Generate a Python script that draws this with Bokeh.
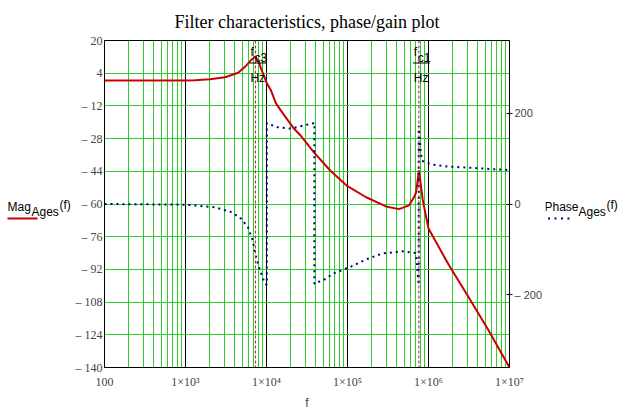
import math
from bokeh.plotting import figure
from bokeh.layouts import row
from bokeh.models import (Range1d, LinearAxis, FixedTicker, Label, Span, BoxAnnotation)
from bokeh.embed import file_html
from bokeh.resources import INLINE

# ---------------- data ----------------
freq_mag = [100, 300, 1000, 1300, 2000, 3080, 4470, 5640, 6500, 7270, 8000, 8590,
            10170, 11380, 13000, 15060, 21900, 26400, 38300, 61100, 97500, 170000, 298000,
            434000, 574000, 661000, 700000, 735000, 760000, 800000, 850000, 920000,
            1000000, 1760000, 3090000, 5370000, 10000000]
mag_db = [0.4, 0.4, 0.4, 0.5, 1.0, 2.0, 4.2, 7.8, 10.5, 12.2, 9.5, 6.1,
          -1.2, -4.5, -10.5, -14.3, -23.2, -26.5, -34.6, -43.6, -51.0, -56.7, -61.2,
          -62.5, -60.7, -56.7, -54.6, -48.5, -43.6, -50.0, -58.0, -65.0,
          -72.0, -89.5, -105.3, -121.0, -140.0]

freq_phase = [100, 1000, 2300, 3720, 4900, 5890, 6760, 7250, 7830, 8590, 9550,
              10100, 10100, 13700, 20000, 28800, 38300, 39000, 39000, 41700, 50100,
              67000, 107000, 170000, 269000, 476000, 692000, 720000, 745000,
              757000, 757000, 775000, 800000, 834000, 1100000, 1600000, 9300000, 10000000]
phase_deg = [0, -1.5, -7, -18, -33, -51, -80, -109, -131, -153, -175,
             -178, 178, 169, 166, 173, 178, 179, -176, -173, -168,
             -153, -139, -122, -109, -104, -108, -131, -165,
             -178, 172, 150, 117, 95, 87, 83, 75, 75]

fc_names = ["c3", "c1"]
fc_values = [7300, 760000]

mag_ticks = [20, 4, -12, -28, -44, -60, -76, -92, -108, -124, -140]
phase_ticks = [-200, 0, 200]
freq_decades = [1e2, 1e3, 1e4, 1e5, 1e6, 1e7]
freq_tick_labels = ["100", "1×10³", "1×10⁴", "1×10⁵", "1×10⁶", "1×10⁷"]
freq_minor = [k * d for d in [1e2, 1e3, 1e4, 1e5, 1e6] for k in range(2, 10)]

title_text = "Filter characteristics, phase/gain plot"

# ---------------- layout constants ----------------
W, H = 627, 415
LW = 72            # left legend strip
ML = 29            # main figure left border (tick labels)
FW = 411           # frame width
MR = 33            # main figure right border (right axis)
RW = W - LW - ML - FW - MR
T, B = 40, 48
GREEN = "#2ecc2e"
RED = "#cc0000"
BLUE = "#000080"


def canvas_label(txt, x, y, size="12px", color="black", style="normal", align="left",
                 font="Liberation Sans"):
    return Label(x=x, y=y, x_units="canvas", y_units="canvas", text=txt,
                 text_font=font, text_font_size=size, text_font_style=style,
                 text_baseline="alphabetic", text_align=align, text_color=color)


def canvas_box(left, right, top, bottom, color):
    return BoxAnnotation(left=left, right=right, top=top, bottom=bottom,
                         left_units="canvas", right_units="canvas",
                         top_units="canvas", bottom_units="canvas",
                         fill_color=color, fill_alpha=1.0, line_color=None)


def strip(width):
    f = figure(width=width, height=H, x_range=Range1d(0, width), y_range=Range1d(0, H),
               output_backend="svg", toolbar_location=None,
               x_axis_location=None, y_axis_location=None,
               min_border=0, min_border_left=0, min_border_right=0,
               min_border_top=0, min_border_bottom=0)
    f.grid.visible = False
    f.outline_line_color = None
    f.background_fill_color = "white"
    f.border_fill_color = "white"
    return f


# ---------------- main figure ----------------
p = figure(width=ML + FW + MR, height=H, x_axis_type="log",
           x_range=Range1d(1e2, 1e7), y_range=Range1d(-140, 20),
           output_backend="svg", toolbar_location=None,
           min_border_left=ML, min_border_right=MR, min_border_top=T, min_border_bottom=B)
p.extra_y_ranges = {"phase": Range1d(-360, 360)}
p.background_fill_color = "white"
p.border_fill_color = "white"
p.outline_line_color = "black"
p.outline_line_alpha = 1.0

p.title.text = title_text
p.title.align = "center"
p.title.text_font = "Liberation Serif"
p.title.text_font_size = "18px"
p.title.text_font_style = "normal"
p.title.text_color = "black"
p.title.standoff = 17

# grids
p.xgrid.ticker = FixedTicker(ticks=freq_decades, minor_ticks=freq_minor)
p.xgrid.grid_line_color = "black"
p.xgrid.grid_line_alpha = 1.0
p.xgrid.minor_grid_line_color = GREEN
p.ygrid.ticker = FixedTicker(ticks=mag_ticks)
p.ygrid.grid_line_color = GREEN
p.ygrid.grid_line_alpha = 1.0

# x axis
xa = p.xaxis[0]
xa.ticker = FixedTicker(ticks=freq_decades)
xa.major_label_overrides = {d: s for d, s in zip(freq_decades, freq_tick_labels)}
xa.major_tick_line_color = None
xa.major_tick_out = 0
xa.major_tick_in = 0
xa.minor_tick_line_color = None
xa.minor_tick_out = 0
xa.axis_line_color = "black"
xa.major_label_text_font = "Liberation Serif"
xa.major_label_text_font_size = "12px"
xa.major_label_standoff = 7
xa.axis_label = "f"
xa.axis_label_text_font = "Liberation Sans"
xa.axis_label_text_font_style = "normal"
xa.axis_label_text_font_size = "12px"
xa.axis_label_standoff = 4

# left axis
ya = p.yaxis[0]
ya.ticker = FixedTicker(ticks=mag_ticks)
ya.major_label_overrides = {t: (f"– {abs(t)}" if t < 0 else str(t)) for t in mag_ticks}
ya.major_tick_line_color = None
ya.major_tick_out = 0
ya.major_tick_in = 0
ya.minor_tick_line_color = None
ya.minor_tick_out = 0
ya.axis_line_color = "black"
ya.major_label_text_font = "Liberation Serif"
ya.major_label_text_font_size = "12px"
ya.major_label_standoff = 2

# right axis
ra = LinearAxis(y_range_name="phase", ticker=FixedTicker(ticks=phase_ticks))
ra.major_label_overrides = {t: (f"– {abs(t)}" if t < 0 else str(t)) for t in phase_ticks}
ra.major_tick_in = 3
ra.major_tick_out = 3
ra.major_tick_line_color = "black"
ra.minor_tick_line_color = None
ra.minor_tick_out = 0
ra.axis_line_color = "black"
ra.major_label_text_font = "Liberation Sans"
ra.major_label_text_font_size = "11px"
ra.major_label_standoff = 2
p.add_layout(ra, "right")

# data
p.line(freq_mag, mag_db, line_color=RED, line_width=2)
p.line(freq_phase, phase_deg, y_range_name="phase", line_color=BLUE, line_width=2,
       line_dash="2 4")

# fc markers with "f_cN / Hz" labels
step = 10 ** (5.0 / FW)   # frequency factor of one pixel on the log axis
for name, fc in zip(fc_names, fc_values):
    p.add_layout(Span(location=fc, dimension="height", line_color="#a02828",
                      line_width=1, line_dash="3 2"))
    for txt, dx, y in [("f", -5, 51), (name, -1, 57), ("Hz", -5, 77)]:
        p.add_layout(Label(x=fc, y=y, x_units="data", y_units="canvas", x_offset=dx,
                           text=txt, text_font="Liberation Sans", text_font_size="12px",
                           text_baseline="alphabetic", text_color="black"))
    p.add_layout(BoxAnnotation(left=fc / step ** 6, right=fc * step ** 11, top=62, bottom=63,
                               left_units="data", right_units="data",
                               top_units="canvas", bottom_units="canvas",
                               fill_color="black", fill_alpha=1.0, line_color=None))

# ---------------- left legend strip ----------------
lf = strip(LW)
for txt, x, y in [("Mag", 7, 206), ("Ages", 31, 211), ("(f)", 59, 204)]:
    lf.add_layout(canvas_label(txt, x, y))
lf.add_layout(canvas_box(7, 37, 217, 219, RED))

# ---------------- right legend strip ----------------
rf = strip(RW)
x0r = LW + ML + FW + MR
for txt, x, y in [("Phase", 544, 206), ("Ages", 578, 211), ("(f)", 606, 204)]:
    rf.add_layout(canvas_label(txt, x - x0r, y))
for i in range(5):
    xd = 541 + 6.5 * i - x0r
    rf.add_layout(canvas_box(xd, xd + 2, 217, 219, BLUE))

layout = row(lf, p, rf, spacing=0)
open("out.html", "w").write(file_html(layout, INLINE))
